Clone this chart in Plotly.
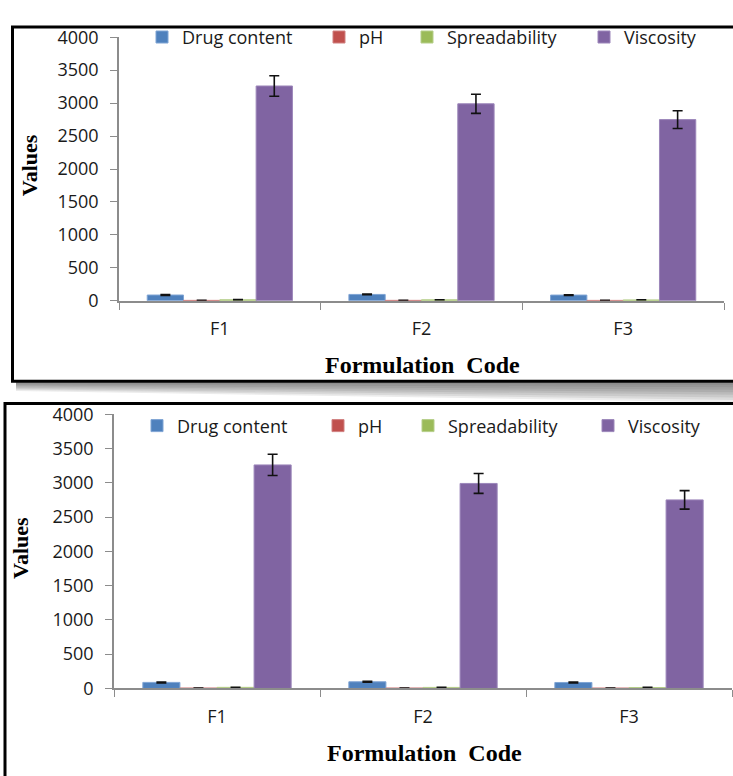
import plotly.graph_objects as go

W, H = 733, 776

# ---- data -------------------------------------------------------------
formulations = ["F1", "F2", "F3"]
series_names = ["Drug content", "pH", "Spreadability", "Viscosity"]
drug_content = [88, 97, 87]
drug_content_err = [6, 6, 6]
ph_values = [6.8, 6.9, 6.7]
ph_err = [0.2, 0.2, 0.2]
spreadability = [16, 15, 14]
spreadability_err = [2, 2, 2]
viscosity = [3260, 2990, 2750]
viscosity_err = [155, 145, 135]
y_ticks = [0, 500, 1000, 1500, 2000, 2500, 3000, 3500, 4000]

series_values = [drug_content, ph_values, spreadability, viscosity]
series_errors = [drug_content_err, ph_err, spreadability_err, viscosity_err]
colors = ["#4F81BD", "#C0504D", "#9BBB59", "#8064A2"]
edge_colors = ["#7FA4D4", "#D08080", "#B5CE8A", "#9C86BA"]


def fx(px):
    return px / W


def fy(py):
    return 1 - py / H


TICK_FONT = dict(family="Open Sans", size=18, color="#1a1a1a")
TITLE_FONT = dict(family="Liberation Serif", size=22, color="#000000")
AXIS_GREY = "#8C8C8C"

# Two identical panels: plot box in pixels, legend row anchor and title positions
panels = [
    dict(x0=119, x1=724, ytop=25, ybot=297, legend_top=6,
         legend_x=[160, 337, 425, 602], vals_xy=(29, 157), code_xy=(422, 363)),
    dict(x0=114, x1=732, ytop=414, ybot=697, legend_top=407,
         legend_x=[155, 336, 426, 606], vals_xy=(21, 552), code_xy=(424, 764)),
]

fig = go.Figure()
layout = dict(
    width=W, height=H,
    margin=dict(l=0, r=0, t=0, b=0),
    paper_bgcolor="white", plot_bgcolor="white",
    barmode="group", bargap=0.28, bargroupgap=0,
    shapes=[], annotations=[],
)

legend_idx = 2
for p_i, p in enumerate(panels):
    sfx = "" if p_i == 0 else str(p_i + 1)
    for s_i, name in enumerate(series_names):
        leg = f"legend{legend_idx}"
        fig.add_trace(go.Bar(
            x=formulations, y=series_values[s_i], name=name,
            marker=dict(color=colors[s_i], line=dict(color=edge_colors[s_i], width=1)),
            error_y=dict(type="data", array=series_errors[s_i], color="#111111",
                         thickness=1.6, width=5),
            xaxis="x" + sfx, yaxis="y" + sfx, legend=leg,
        ))
        layout[leg] = dict(
            x=fx(p["legend_x"][s_i] - 18), y=fy(p["legend_top"]),
            xanchor="left", yanchor="top", orientation="h",
            bgcolor="rgba(0,0,0,0)", font=TICK_FONT,
            itemclick=False, itemdoubleclick=False,
        )
        legend_idx += 1

    layout["xaxis" + sfx] = dict(
        domain=[fx(p["x0"]), fx(p["x1"])], anchor="y" + sfx,
        type="category", range=[-0.5, 2.5], tickson="boundaries",
        ticks="outside", ticklen=7, tickcolor=AXIS_GREY, tickwidth=1,
        showline=True, linecolor=AXIS_GREY, linewidth=1.5,
        showgrid=False, zeroline=False, tickfont=TICK_FONT,
        ticklabelstandoff=11, fixedrange=True,
    )
    layout["yaxis" + sfx] = dict(
        domain=[fy(p["ybot"]), fy(p["ytop"])], anchor="x" + sfx,
        range=[0, 4000], tickvals=y_ticks,
        ticks="outside", ticklen=7, tickcolor=AXIS_GREY, tickwidth=1,
        showline=True, linecolor=AXIS_GREY, linewidth=1.5,
        showgrid=False, zeroline=False, tickfont=TICK_FONT,
        ticklabelstandoff=8, fixedrange=True,
    )
    layout["annotations"] += [
        dict(text="<b>Values</b>", xref="paper", yref="paper",
             x=fx(p["vals_xy"][0]), y=fy(p["vals_xy"][1]), showarrow=False,
             textangle=-90, font=TITLE_FONT, xanchor="center", yanchor="middle"),
        dict(text="<b>Formulation  Code</b>", xref="paper", yref="paper",
             x=fx(p["code_xy"][0]), y=fy(p["code_xy"][1]), showarrow=False,
             font=dict(TITLE_FONT, size=24), xanchor="center", yanchor="middle"),
    ]

# drop shadow under the upper frame: stacked translucent wedges, deeper on the right
for k in range(1, 9):
    dl, dr = 9 * k / 8, 21 * k / 8
    layout["shapes"].append(dict(
        type="path", xref="paper", yref="paper", layer="below",
        path=(f"M {fx(16)},{fy(381)} L {fx(740)},{fy(381)} "
              f"L {fx(740)},{fy(381 + dr)} L {fx(16)},{fy(381 + dl)} Z"),
        fillcolor="rgba(40,40,40,0.085)", line=dict(width=0),
    ))

# frames around the two panels (right/bottom edges run off the page)
layout["shapes"] += [
    dict(type="rect", xref="paper", yref="paper", layer="above",
         x0=fx(12.5), x1=fx(745), y0=fy(380), y1=fy(14.5),
         line=dict(color="#000000", width=3), fillcolor="rgba(0,0,0,0)"),
    dict(type="rect", xref="paper", yref="paper", layer="above",
         x0=fx(5), x1=fx(745), y0=fy(790), y1=fy(403),
         line=dict(color="#000000", width=3), fillcolor="rgba(0,0,0,0)"),
]

fig.update_layout(**layout)
fig.write_html("out.html")
